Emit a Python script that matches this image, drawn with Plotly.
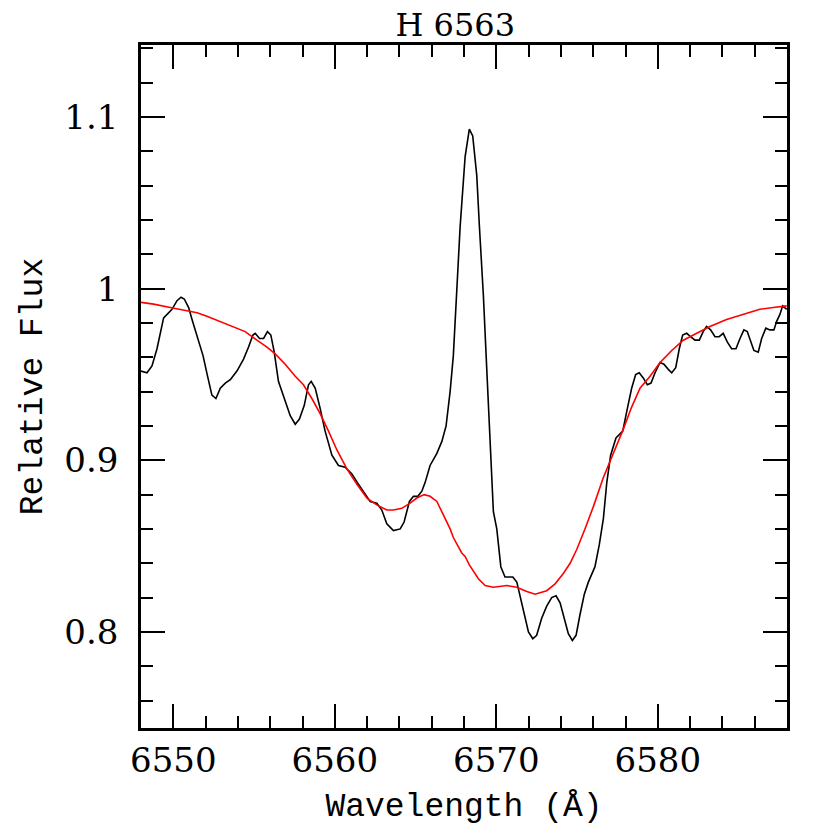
import plotly.graph_objects as go

# observed spectrum (black)
obs_wave = [6548.00, 6548.37, 6548.68, 6548.99, 6549.40, 6549.92, 6550.23, 6550.48, 6550.68, 6550.95,
            6551.16, 6551.47, 6551.84, 6552.12, 6552.39, 6552.64, 6552.91, 6553.22, 6553.53, 6553.94,
            6554.35, 6554.66, 6554.93, 6555.07, 6555.34, 6555.59, 6555.83, 6556.04, 6556.25, 6556.51,
            6556.87, 6557.24, 6557.55, 6557.81, 6558.11, 6558.37, 6558.54, 6558.79, 6559.10, 6559.40,
            6559.82, 6560.23, 6560.64, 6561.06, 6561.40, 6561.88, 6562.19, 6562.60, 6562.91, 6563.22,
            6563.63, 6564.05, 6564.29, 6564.62, 6564.87, 6565.14, 6565.39, 6565.59, 6565.90, 6566.32,
            6566.63, 6566.89, 6567.14, 6567.34, 6567.55, 6567.76, 6568.07, 6568.33, 6568.54, 6568.79,
            6568.95, 6569.20, 6569.41, 6569.62, 6569.82, 6570.03, 6570.28, 6570.54, 6571.02, 6571.27,
            6571.58, 6571.99, 6572.26, 6572.50, 6572.81, 6573.12, 6573.43, 6573.70, 6573.95, 6574.19,
            6574.46, 6574.71, 6574.94, 6575.18, 6575.45, 6575.70, 6576.11, 6576.38, 6576.63, 6576.84,
            6577.08, 6577.41, 6577.83, 6578.11, 6578.38, 6578.63, 6578.85, 6579.10, 6579.35, 6579.58,
            6579.83, 6580.14, 6580.38, 6580.65, 6580.86, 6581.11, 6581.33, 6581.54, 6581.79, 6582.03,
            6582.30, 6582.57, 6582.81, 6583.02, 6583.27, 6583.54, 6583.80, 6584.05, 6584.30, 6584.57,
            6584.84, 6585.09, 6585.33, 6585.54, 6585.77, 6585.95, 6586.22, 6586.43, 6586.69, 6586.94,
            6587.19, 6587.36, 6587.56, 6587.73, 6587.98]
obs_flux = [0.952, 0.951, 0.955, 0.965, 0.983, 0.988, 0.993, 0.995, 0.994, 0.989,
            0.982, 0.973, 0.961, 0.949, 0.938, 0.936, 0.942, 0.945, 0.947, 0.952,
            0.959, 0.966, 0.973, 0.974, 0.971, 0.971, 0.975, 0.973, 0.963, 0.946,
            0.936, 0.926, 0.921, 0.924, 0.932, 0.944, 0.946, 0.942, 0.930, 0.917,
            0.903, 0.897, 0.896, 0.892, 0.887, 0.880, 0.876, 0.875, 0.871, 0.863,
            0.859, 0.860, 0.864, 0.876, 0.879, 0.879, 0.882, 0.887, 0.897, 0.904,
            0.911, 0.920, 0.940, 0.961, 0.996, 1.036, 1.077, 1.093, 1.089, 1.066,
            1.037, 0.996, 0.953, 0.909, 0.870, 0.860, 0.838, 0.832, 0.832, 0.829,
            0.816, 0.800, 0.796, 0.798, 0.808, 0.815, 0.820, 0.821, 0.817, 0.808,
            0.799, 0.795, 0.798, 0.810, 0.822, 0.829, 0.838, 0.851, 0.866, 0.887,
            0.903, 0.913, 0.917, 0.930, 0.942, 0.950, 0.951, 0.948, 0.944, 0.945,
            0.951, 0.957, 0.956, 0.953, 0.951, 0.954, 0.965, 0.973, 0.974, 0.972,
            0.970, 0.970, 0.975, 0.978, 0.976, 0.972, 0.972, 0.974, 0.969, 0.965,
            0.965, 0.971, 0.976, 0.975, 0.969, 0.964, 0.963, 0.971, 0.977, 0.976,
            0.976, 0.981, 0.985, 0.990, 0.988]

# model spectrum (red)
mod_wave = [6548.00, 6548.78, 6549.81, 6550.85, 6551.47, 6552.08, 6552.91, 6553.73, 6554.45, 6555.18,
            6555.80, 6556.31, 6556.93, 6557.55, 6558.06, 6558.58, 6559.10, 6559.61, 6560.13, 6560.75,
            6561.37, 6561.99, 6562.60, 6563.22, 6563.63, 6564.15, 6564.66, 6565.08, 6565.53, 6565.90,
            6566.32, 6566.73, 6567.14, 6567.34, 6567.86, 6568.07, 6568.33, 6568.89, 6569.31, 6569.82,
            6570.65, 6571.27, 6571.89, 6572.40, 6573.12, 6573.64, 6574.15, 6574.57, 6574.98, 6575.49,
            6576.01, 6576.63, 6577.25, 6577.86, 6578.38, 6578.90, 6579.52, 6580.14, 6580.86, 6581.58,
            6582.41, 6583.23, 6584.26, 6585.29, 6586.32, 6587.15, 6587.98]
mod_flux = [0.992, 0.991, 0.989, 0.987, 0.986, 0.984, 0.981, 0.978, 0.975, 0.970,
            0.966, 0.962, 0.956, 0.949, 0.944, 0.936, 0.927, 0.917, 0.906, 0.895,
            0.886, 0.878, 0.874, 0.871, 0.871, 0.872, 0.875, 0.878, 0.880, 0.879,
            0.876, 0.868, 0.860, 0.855, 0.846, 0.844, 0.839, 0.831, 0.827, 0.826,
            0.827, 0.826, 0.8235, 0.822, 0.824, 0.828, 0.834, 0.840, 0.848, 0.860,
            0.873, 0.890, 0.904, 0.918, 0.931, 0.942, 0.949, 0.957, 0.964, 0.970,
            0.974, 0.978, 0.982, 0.985, 0.988, 0.989, 0.990]

x_ticks = [6550, 6560, 6570, 6580]
y_ticks = [0.8, 0.9, 1.0, 1.1]
y_ticktext = ["0.8", "0.9", "1", "1.1"]

serif = "DejaVu Serif"
mono = "Liberation Mono"

fig = go.Figure()
fig.add_trace(go.Scatter(x=obs_wave, y=obs_flux, mode="lines",
                         line=dict(color="black", width=1.6), showlegend=False))
fig.add_trace(go.Scatter(x=mod_wave, y=mod_flux, mode="lines",
                         line=dict(color="red", width=1.6), showlegend=False))

axis_common = dict(showgrid=False, zeroline=False, showline=True, linecolor="black", linewidth=2.5,
                   mirror="ticks", ticks="inside", ticklen=24, tickwidth=2, tickcolor="black",
                   automargin=False,
                   tickfont=dict(family=serif, size=34, color="black"))

fig.update_xaxes(range=[6548, 6588], tickvals=x_ticks, ticklabelstandoff=0,
                 minor=dict(dtick=2, tick0=6548, ticks="inside", ticklen=12, tickwidth=1.8, tickcolor="black"),
                 title=dict(text="Wavelength (Å)", font=dict(family=mono, size=33, color="black"), standoff=15),
                 **axis_common)
fig.update_yaxes(range=[0.744, 1.142], tickvals=y_ticks, ticktext=y_ticktext, ticklabelstandoff=13,
                 minor=dict(dtick=0.02, tick0=0.74, ticks="inside", ticklen=12, tickwidth=1.8, tickcolor="black"),
                 title=dict(text="Relative Flux", font=dict(family=mono, size=33, color="black"), standoff=12),
                 **axis_common)

# page body adds ~8px offset, so the figure is 822 px square
fig.update_layout(width=822, height=822,
                  margin=dict(l=133, r=43, t=37, b=102),
                  paper_bgcolor="white", plot_bgcolor="white",
                  title=dict(text="H 6563", font=dict(family=serif, size=32, color="black"),
                             x=0.4865, xref="paper", xanchor="center", y=0.98, yanchor="middle",
                             automargin=False))

fig.write_html("out.html")
